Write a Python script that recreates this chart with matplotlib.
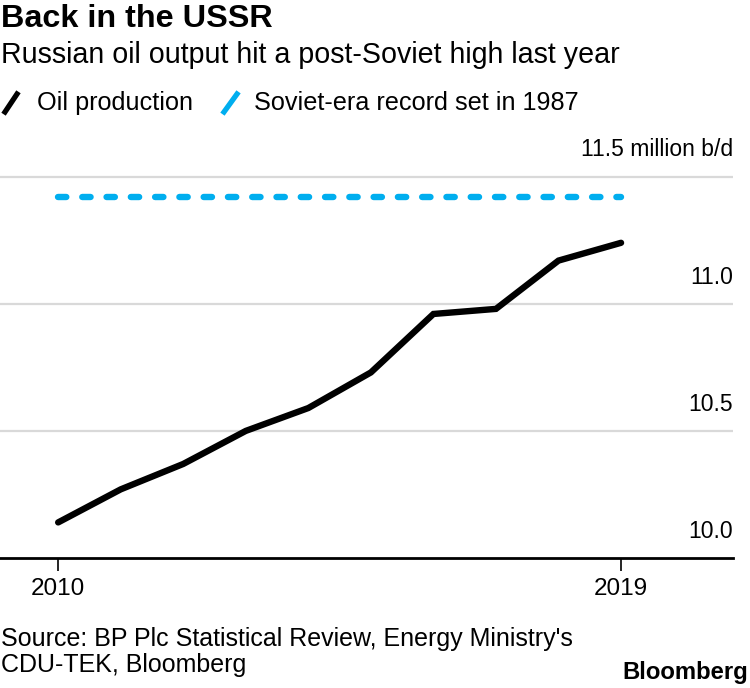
import matplotlib.pyplot as plt
from matplotlib.lines import Line2D

# data
years = [2010, 2011, 2012, 2013, 2014, 2015, 2016, 2017, 2018, 2019]
oil_production = [10.14, 10.27, 10.37, 10.50, 10.59, 10.73, 10.96, 10.98, 11.17, 11.24]
soviet_record = 11.42
y_ticks = [10.0, 10.5, 11.0, 11.5]
y_labels = ['10.0', '10.5', '11.0', '11.5 million b/d']
x_ticks = [2010, 2019]

BLUE = '#00aeef'
GRID = '#d9d9d9'

plt.rcParams['font.family'] = ['Liberation Sans', 'DejaVu Sans']

fig = plt.figure(figsize=(7.5, 6.88), dpi=100)
W, H = 750, 688

# axes placed in pixel terms
ax = fig.add_axes([0, 1 - 558 / H, 733 / W, (558 - 164) / H])
ax.set_xlim(2009.07, 2020.79)
ax.set_ylim(10.0, 11.55)

for v in y_ticks[1:]:
    ax.axhline(v, color=GRID, lw=1.6, zorder=1)

ax.plot(years, oil_production, color='black', lw=4.6, solid_capstyle='round',
        solid_joinstyle='miter', zorder=3)
ax.plot([years[0], years[-1]], [soviet_record, soviet_record], color=BLUE, lw=4.6,
        dash_capstyle='round', dashes=(1.3, 2.5), zorder=2)

for s in ['top', 'right', 'left']:
    ax.spines[s].set_visible(False)
ax.spines['bottom'].set_linewidth(2)
ax.set_yticks([])
ax.set_xticks(x_ticks)
ax.set_xticklabels([str(x) for x in x_ticks], fontsize=17.5)
ax.tick_params(axis='x', length=9.5, width=1.2, direction='out', pad=5)
ax.patch.set_alpha(0)

for v, lab in zip(y_ticks, y_labels):
    ax.annotate(lab, xy=(1.0, v), xycoords=ax.get_yaxis_transform(),
                xytext=(0, 11), textcoords='offset points',
                ha='right', va='bottom', fontsize=16.5)

# titles
fig.text(1 / W, 1 - 4 / H, 'Back in the USSR', fontsize=23.3, fontweight='bold',
         ha='left', va='top')
fig.text(1 / W, 1 - 41 / H, 'Russian oil output hit a post-Soviet high last year',
         fontsize=20.6, ha='left', va='top')

# legend
fig.add_artist(Line2D([5 / W, 17 / W], [1 - 112 / H, 1 - 94 / H], color='black', lw=3.8))
fig.text(37 / W, 1 - 103 / H, 'Oil production', fontsize=18.2, ha='left', va='center')
fig.add_artist(Line2D([224 / W, 237 / W], [1 - 112 / H, 1 - 94 / H], color=BLUE, lw=3.8))
fig.text(254 / W, 1 - 103 / H, 'Soviet-era record set in 1987', fontsize=18.2,
         ha='left', va='center')

# footer
fig.text(1 / W, 1 - 627 / H, "Source: BP Plc Statistical Review, Energy Ministry's\nCDU-TEK, Bloomberg",
         fontsize=18, ha='left', va='top', linespacing=1.1)
fig.text(748 / W, 1 - 673 / H, 'Bloomberg', fontsize=17.2, fontweight='bold',
         ha='right', va='center')

fig.savefig('out.png', dpi=100)
